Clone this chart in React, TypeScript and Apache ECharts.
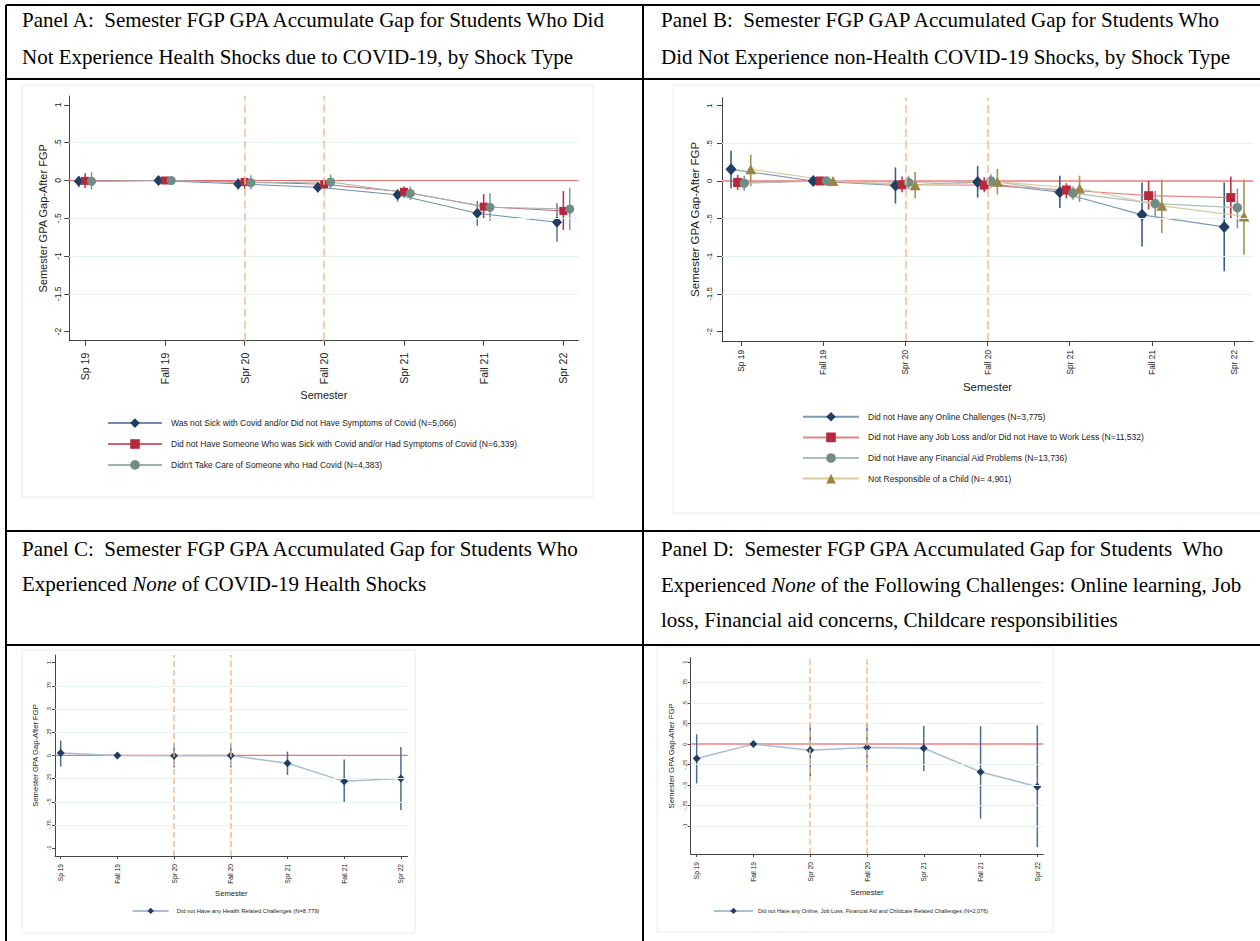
import { useEffect, useRef } from "react";
import * as echarts from "echarts";

// ---------- data ----------
const semesters = ["Sp 19", "Fall 19", "Spr 20", "Fall 20", "Spr 21", "Fall 21", "Spr 22"];
const covidBreaks = ["Spr 20", "Fall 20"];

const ticksAB = [1, 0.5, 0, -0.5, -1, -1.5, -2];
const tickLabelsAB = ["1", ".5", "0", "-.5", "-1", "-1.5", "-2"];
const gridLinesAB = [0.5, -0.5, -1, -1.5];
const ticksCD = [1, 0.75, 0.5, 0.25, 0, -0.25, -0.5, -0.75, -1];
const tickLabelsCD = ["1", ".75", ".5", ".25", "0", "-.25", "-.5", "-.75", "-1"];
const gridLinesC = [0.75, 0.5, 0.25, -0.25, -0.5, -0.75];
const gridLinesD = [0.75, 0.5, 0.25, -0.25, -0.5, -0.75, -1];

// Panel A
const legendA = [
  "Was not Sick with Covid and/or Did not Have Symptoms of Covid (N=5,066)",
  "Did not Have Someone Who was Sick with Covid and/or Had Symptoms of Covid (N=6,339)",
  "Didn't Take Care of Someone who Had Covid (N=4,383)",
];
const aNotSick = [-0.01, 0, -0.045, -0.09, -0.19, -0.434, -0.553];
const aNotSickLo = [-0.09, 0, -0.12, -0.155, -0.28, -0.6, -0.81];
const aNotSickHi = [0.06, 0, 0.03, -0.025, -0.12, -0.27, -0.3];
const aSomeone = [-0.005, 0, -0.02, -0.05, -0.15, -0.346, -0.403];
const aSomeoneLo = [-0.1, 0, -0.11, -0.12, -0.23, -0.51, -0.655];
const aSomeoneHi = [0.095, 0, 0.05, 0.02, -0.08, -0.18, -0.14];
const aCare = [-0.01, 0, -0.03, -0.02, -0.17, -0.355, -0.377];
const aCareLo = [-0.12, 0, -0.12, -0.11, -0.26, -0.536, -0.655];
const aCareHi = [0.11, 0, 0.07, 0.08, -0.08, -0.17, -0.1];

// Panel B
const legendB = [
  "Did not Have any Online Challenges (N=3,775)",
  "Did not Have any Job Loss and/or Did not Have to Work Less (N=11,532)",
  "Did not Have any Financial Aid Problems (N=13,736)",
  "Not Responsible of a Child (N= 4,901)",
];
const bOnline = [0.155, 0, -0.06, -0.015, -0.15, -0.45, -0.61];
const bOnlineLo = [-0.1, 0, -0.3, -0.22, -0.36, -0.87, -1.2];
const bOnlineHi = [0.4, 0, 0.18, 0.2, 0.07, -0.02, -0.02];
const bJob = [-0.02, 0, -0.05, -0.055, -0.12, -0.195, -0.22];
const bJobLo = [-0.12, 0, -0.15, -0.15, -0.23, -0.38, -0.5];
const bJobHi = [0.08, 0, 0.06, 0.05, -0.03, 0.0, 0.06];
const bAid = [-0.03, 0, -0.02, 0.0, -0.16, -0.3, -0.355];
const bAidLo = [-0.13, 0, -0.11, -0.09, -0.25, -0.48, -0.63];
const bAidHi = [0.07, 0, 0.07, 0.09, -0.07, -0.13, -0.1];
const bChild = [0.155, 0, -0.055, -0.01, -0.1, -0.33, -0.47];
const bChildLo = [-0.07, 0, -0.23, -0.18, -0.28, -0.69, -0.98];
const bChildHi = [0.35, 0, 0.12, 0.16, 0.07, 0.02, 0.02];

// Panel C
const legendC = ["Did not Have any Health Related Challenges (N=8,779)"];
const cHealth = [0.025, 0, -0.005, 0, -0.085, -0.28, -0.25];
const cHealthLo = [-0.12, 0, -0.13, -0.13, -0.21, -0.51, -0.59];
const cHealthHi = [0.16, 0, 0.12, 0.12, 0.04, -0.045, 0.09];

// Panel D
const legendD = ["Did not Have any Online, Job Loss, Financial Aid and Childcare Related Challenges (N=2,076)"];
const dNone = [-0.175, 0, -0.075, -0.04, -0.05, -0.34, -0.52];
const dNoneLo = [-0.48, 0, -0.39, -0.33, -0.33, -0.91, -1.26];
const dNoneHi = [0.12, 0, 0.245, 0.245, 0.22, 0.22, 0.23];

// ---------- styling / layout ----------
const FONT = "'Liberation Sans', Arial, Helvetica, sans-serif";
const SERIF = "'Liberation Serif', 'Times New Roman', serif";
const NAVY = "#1f3e64";
const RED = "#b8283c";
const TEAL = "#6f8d85";
const OLIVE = "#998647";

const panels: any[] = [
  {
    left: 69.2, top: 96, width: 509.3, height: 244.7,
    xMin: 0.8, xMax: 7.19, yMin: -2.12, yMax: 1.118,
    ticks: ticksAB, tickLabels: tickLabelsAB, gridLines: gridLinesAB,
    xLabelSize: 10.5, yLabelSize: 8.5, nameSize: 11, xNameGap: 48.5, yNameGap: 20.5,
    xLabelMargin: 12, yLabelMargin: 7, tickLen: 5,
    zeroColor: "#ee6a6a", zeroWidth: 1, dashWidth: 1.5, dashType: [8, 4],
    legend: { left: 107, top: 418.3, itemWidth: 54, itemHeight: 12, itemGap: 11.3, fontSize: 8.5, pad: 4 },
    series: [
      { name: legendA[0], v: aNotSick, lo: aNotSickLo, hi: aNotSickHi, off: -0.08, symbol: "diamond", size: [10, 11], color: NAVY, line: "#6e8bab", lw: 1, bar: "#5a7698", bw: 1.5 },
      { name: legendA[1], v: aSomeone, lo: aSomeoneLo, hi: aSomeoneHi, off: 0, symbol: "rect", size: 8, color: RED, line: "#d8606e", lw: 1, bar: "#c4283c", bw: 1.5 },
      { name: legendA[2], v: aCare, lo: aCareLo, hi: aCareHi, off: 0.08, symbol: "circle", size: 9, color: TEAL, line: "#9fb3ad", lw: 1, bar: "#7f9a92", bw: 1.5 },
    ],
  },
  {
    left: 722, top: 97.7, width: 531, height: 243.3,
    xMin: 0.77, xMax: 7.23, yMin: -2.125, yMax: 1.106,
    ticks: ticksAB, tickLabels: tickLabelsAB, gridLines: gridLinesAB,
    xLabelSize: 8.3, yLabelSize: 8, nameSize: 11.5, xNameGap: 40, yNameGap: 21,
    xLabelMargin: 9, yLabelMargin: 9, tickLen: 5,
    zeroColor: "#f49a9a", zeroWidth: 2, dashWidth: 1.5, dashType: [8, 4],
    legend: { left: 802, top: 412, itemWidth: 56, itemHeight: 12, itemGap: 11, fontSize: 8.5, pad: 4 },
    series: [
      { name: legendB[0], v: bOnline, lo: bOnlineLo, hi: bOnlineHi, off: -0.12, symbol: "diamond", size: [11, 12], color: NAVY, line: "#7f98b4", lw: 1.2, bar: "#3d5f86", bw: 1.6 },
      { name: legendB[1], v: bJob, lo: bJobLo, hi: bJobHi, off: -0.04, symbol: "rect", size: 9, color: RED, line: "#e8808a", lw: 1.2, bar: "#c23246", bw: 1.6 },
      { name: legendB[2], v: bAid, lo: bAidLo, hi: bAidHi, off: 0.04, symbol: "circle", size: 9.5, color: TEAL, line: "#aebfba", lw: 1.2, bar: "#80988f", bw: 1.6 },
      { name: legendB[3], v: bChild, lo: bChildLo, hi: bChildHi, off: 0.12, symbol: "triangle", size: [11, 10], color: OLIVE, line: "#d7cb9e", lw: 1.2, bar: "#a6914f", bw: 1.6 },
    ],
  },
  {
    left: 55, top: 655, width: 352.7, height: 201,
    xMin: 0.9, xMax: 7.12, yMin: -1.085, yMax: 1.083,
    ticks: ticksCD, tickLabels: tickLabelsCD, gridLines: gridLinesC,
    xLabelSize: 6.6, yLabelSize: 5.6, nameSize: 7.6, xNameGap: 33, yNameGap: 15.5,
    xLabelMargin: 8, yLabelMargin: 3, tickLen: 3,
    zeroColor: "#ef7373", zeroWidth: 1.2, dashWidth: 1.5, dashType: [6, 3],
    legend: { left: 131.7, top: 907.7, itemWidth: 36, itemHeight: 8, itemGap: 5, fontSize: 5.8, pad: 3 },
    series: [
      { name: legendC[0], v: cHealth, lo: cHealthLo, hi: cHealthHi, off: 0, symbol: "diamond", size: 8, color: NAVY, line: "#a9bdd3", lw: 1.5, bar: "#4e6c8e", bw: 1.5 },
    ],
  },
  {
    left: 690.7, top: 657.7, width: 352.6, height: 196.3,
    xMin: 0.895, xMax: 7.105, yMin: -1.343, yMax: 1.056,
    ticks: ticksCD, tickLabels: tickLabelsCD, gridLines: gridLinesD,
    xLabelSize: 6.6, yLabelSize: 5.6, nameSize: 7.8, xNameGap: 34.5, yNameGap: 15.5,
    xLabelMargin: 8, yLabelMargin: 2.5, tickLen: 3,
    zeroColor: "#f5a0a0", zeroWidth: 2, dashWidth: 1.5, dashType: [6, 3],
    legend: { left: 713, top: 907.7, itemWidth: 39, itemHeight: 8, itemGap: 5, fontSize: 5.5, pad: 0 },
    series: [
      { name: legendD[0], v: dNone, lo: dNoneLo, hi: dNoneHi, off: 0, symbol: "diamond", size: 8, color: NAVY, line: "#a9bdd3", lw: 1.5, bar: "#4e6c8e", bw: 1.5 },
    ],
  },
];

const titleLines: any[] = [
  { x: 22, y: 20, text: "Panel A:  Semester FGP GPA Accumulate Gap for Students Who Did" },
  { x: 22, y: 57, text: "Not Experience Health Shocks due to COVID-19, by Shock Type" },
  { x: 661, y: 20, text: "Panel B:  Semester FGP GAP Accumulated Gap for Students Who" },
  { x: 661, y: 57, text: "Did Not Experience non-Health COVID-19 Shocks, by Shock Type" },
  { x: 22, y: 549, text: "Panel C:  Semester FGP GPA Accumulated Gap for Students Who" },
  { x: 22, y: 584, text: "Experienced {i|None} of COVID-19 Health Shocks" },
  { x: 661, y: 549, text: "Panel D:  Semester FGP GPA Accumulated Gap for Students  Who" },
  { x: 661, y: 585, text: "Experienced {i|None} of the Following Challenges: Online learning, Job" },
  { x: 661, y: 620, text: "loss, Financial aid concerns, Childcare responsibilities" },
];

function buildOption() {
  const grid: any[] = [];
  const xAxis: any[] = [];
  const yAxis: any[] = [];
  const series: any[] = [];
  const legend: any[] = [];
  const positions = semesters.map((_, k) => k + 1);
  const breaks = covidBreaks.map((c) => semesters.indexOf(c) + 1);

  panels.forEach((p, i) => {
    grid.push({ left: p.left, top: p.top, width: p.width, height: p.height, containLabel: false, outerBoundsMode: "none" });
    xAxis.push({
      type: "value", gridIndex: i, min: p.xMin, max: p.xMax,
      name: "Semester", nameLocation: "middle", nameGap: p.xNameGap,
      nameTextStyle: { fontSize: p.nameSize, color: "#222", fontFamily: FONT },
      axisLine: { show: true, onZero: false, lineStyle: { color: "#444", width: 1 } },
      axisTick: { show: true, customValues: positions, length: p.tickLen, lineStyle: { color: "#444", width: 1 } },
      axisLabel: {
        show: true, customValues: positions, rotate: 90, margin: p.xLabelMargin,
        fontSize: p.xLabelSize, color: "#222", fontFamily: FONT,
        formatter: (v: number) => semesters[Math.round(v) - 1] ?? "",
      },
      splitLine: { show: false },
    });
    yAxis.push({
      type: "value", gridIndex: i, min: p.yMin, max: p.yMax,
      name: "Semester GPA Gap-After FGP", nameLocation: "middle", nameGap: p.yNameGap,
      nameTextStyle: { fontSize: p.nameSize, color: "#222", fontFamily: FONT },
      axisLine: { show: true, onZero: false, lineStyle: { color: "#444", width: 1 } },
      axisTick: { show: true, customValues: p.ticks, length: p.tickLen, lineStyle: { color: "#444", width: 1 } },
      axisLabel: {
        show: true, customValues: p.ticks, rotate: 90, margin: p.yLabelMargin,
        fontSize: p.yLabelSize, color: "#222", fontFamily: FONT,
        formatter: (v: number) => {
          const k = p.ticks.findIndex((t: number) => Math.abs(t - v) < 1e-6);
          return k >= 0 ? p.tickLabels[k] : "";
        },
      },
      splitLine: { show: false },
    });

    // grid lines and covid-semester dashed lines
    series.push({
      type: "line", name: "_ref" + i, xAxisIndex: i, yAxisIndex: i,
      data: [], symbol: "none", silent: true, z: 1,
      itemStyle: { color: "#e8f0f0" }, lineStyle: { color: "#e8f0f0", width: 1 },
      markLine: {
        silent: true, symbol: ["none", "none"], label: { show: false }, animation: false,
        lineStyle: { color: "#e8f0f0", width: 1, type: "solid" },
        emphasis: { disabled: true },
        data: [
          ...p.gridLines.map((v: number) => ({ yAxis: v, lineStyle: { color: "#e8f0f0", width: 1, type: "solid" } })),
          ...breaks.map((b: number) => ({ xAxis: b, lineStyle: { color: "#f6bc8c", width: p.dashWidth, type: p.dashType } })),
        ],
      },
    });
    // zero reference line
    series.push({
      type: "line", name: "_zero" + i, xAxisIndex: i, yAxisIndex: i,
      data: [[p.xMin, 0], [p.xMax, 0]], symbol: "none", silent: true, z: 1.5,
      itemStyle: { color: p.zeroColor },
      lineStyle: { color: p.zeroColor, width: p.zeroWidth, type: "solid" },
      emphasis: { disabled: true },
    });

    p.series.forEach((s: any) => {
      const bars = semesters
        .map((_, k) => [k + 1 + s.off, s.lo[k], s.hi[k]])
        .filter((d) => d[1] !== d[2]);
      series.push({
        type: "custom", name: s.name + " CI", xAxisIndex: i, yAxisIndex: i, z: 2, silent: true,
        encode: { x: 0, y: [1, 2] },
        data: bars,
        renderItem: (_params: any, api: any) => {
          const x = api.value(0);
          const a = api.coord([x, api.value(2)]);
          const b = api.coord([x, api.value(1)]);
          return { type: "line", shape: { x1: a[0], y1: a[1], x2: b[0], y2: b[1] }, style: { stroke: s.bar, lineWidth: s.bw } };
        },
      });
    });
    p.series.forEach((s: any) => {
      series.push({
        type: "line", name: s.name, xAxisIndex: i, yAxisIndex: i, z: 3,
        data: semesters.map((_, k) => [k + 1 + s.off, s.v[k]]),
        symbol: s.symbol, symbolSize: s.size, showSymbol: true,
        itemStyle: { color: s.color, borderWidth: 0 },
        lineStyle: { color: s.line, width: s.lw },
        emphasis: { disabled: true },
      });
    });

    legend.push({
      data: p.series.map((s: any) => s.name), orient: "vertical",
      left: p.legend.left, top: p.legend.top, padding: 0,
      itemWidth: p.legend.itemWidth, itemHeight: p.legend.itemHeight, itemGap: p.legend.itemGap,
      selectedMode: false,
      textStyle: { fontSize: p.legend.fontSize, color: "#222", fontFamily: FONT, padding: [0, 0, 0, p.legend.pad] },
    });
  });

  const lines = [
    [6, 5, 1260, 5],
    [6, 5, 6, 941],
    [643, 5, 643, 941],
    [6, 79, 1260, 79],
    [6, 531, 1260, 531],
    [6, 645, 1260, 645],
  ];
  const frames = [
    [22, 85, 571, 412],
    [673, 85, 600, 428],
    [22, 650, 393, 283],
    [657, 647, 396, 285],
  ];
  const elements: any[] = [
    ...frames.map((f) => ({
      type: "rect", silent: true, z: -10,
      shape: { x: f[0], y: f[1], width: f[2], height: f[3] },
      style: { fill: "none", stroke: "#ececec", lineWidth: 1 },
    })),
    ...lines.map((l) => ({
      type: "line", silent: true, z: 10,
      shape: { x1: l[0], y1: l[1], x2: l[2], y2: l[3] },
      style: { stroke: "#000", lineWidth: 2 },
    })),
    ...titleLines.map((t) => ({
      type: "text", silent: true, x: t.x, y: t.y, z: 10,
      style: {
        text: t.text, fill: "#000", fontSize: 21, fontFamily: SERIF,
        align: "left", verticalAlign: "middle",
        rich: { i: { fontStyle: "italic", fontSize: 21, fontFamily: SERIF, fill: "#000" } },
      },
    })),
  ];

  return {
    animation: false,
    backgroundColor: "#ffffff",
    textStyle: { fontFamily: FONT },
    grid, xAxis, yAxis, series, legend,
    graphic: { elements },
  };
}

export default function App() {
  const ref = useRef<HTMLDivElement>(null);
  useEffect(() => {
    if (!ref.current) return;
    const chart = echarts.init(ref.current, undefined, { renderer: "svg" });
    chart.setOption(buildOption() as any);
    return () => chart.dispose();
  }, []);
  return (
    <div
      ref={ref}
      style={{ position: "absolute", left: 0, top: 0, width: 1260, height: 941, background: "#fff" }}
    />
  );
}
